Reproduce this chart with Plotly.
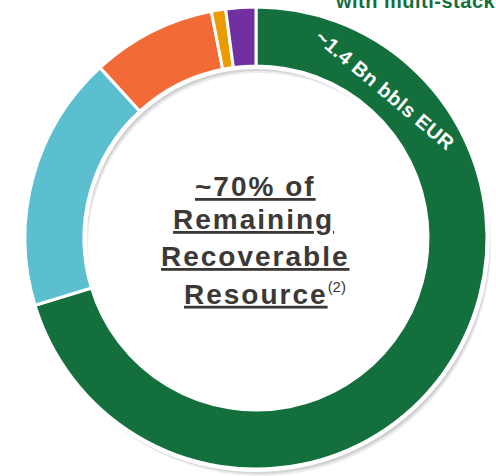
import plotly.graph_objects as go

# Share of remaining recoverable resource by area
segments = ["Core area", "Area B", "Area C", "Area D", "Area E"]
shares = [70.3, 17.9, 8.7, 1.0, 2.1]
colors = ["#13703D", "#5BBFCF", "#F26B36", "#E99B00", "#7030A0"]

ring_label = "~1.4 Bn bbls EUR"
center_lines = ["~70% of", "Remaining", "Recoverable", "Resource"]
center_note = "(2)"
header = "with multi-stacked"

W, H = 496, 476
CX, CY = 256, 238          # ring centre in px
R_OUT, R_IN = 231, 172     # outer / inner radius in px


def dom(cx, cy, r):
    return dict(x=[(cx - r) / W, (cx + r) / W],
                y=[(H - cy - r) / H, (H - cy + r) / H])


def px(x):
    return x / W


def py(y):
    return (H - y) / H


fig = go.Figure()

# soft drop shadow, a few offset grey rings
for dx, dy, a in [(2, 3, 0.10), (3, 5, 0.10), (4, 7, 0.07)]:
    fig.add_trace(go.Pie(
        values=shares, labels=segments, sort=False, direction="clockwise",
        rotation=0, hole=R_IN / R_OUT, domain=dom(CX + dx, CY + dy, R_OUT),
        marker=dict(colors=[f"rgba(0,0,0,{a})"] * len(shares), line=dict(width=0)),
        textinfo="none", hoverinfo="skip", showlegend=False))

# white halo around the ring
pad = 3
fig.add_trace(go.Pie(
    values=[1], labels=["halo"], sort=False, hole=(R_IN - pad) / (R_OUT + pad),
    domain=dom(CX, CY, R_OUT + pad),
    marker=dict(colors=["#FFFFFF"], line=dict(width=0)),
    textinfo="none", hoverinfo="skip", showlegend=False))

# the donut itself
fig.add_trace(go.Pie(
    values=shares, labels=segments, sort=False, direction="clockwise",
    rotation=0, hole=R_IN / R_OUT, domain=dom(CX, CY, R_OUT),
    marker=dict(colors=colors, line=dict(color="#FFFFFF", width=3)),
    textinfo="none", showlegend=False))

font = "Liberation Sans, Arial, sans-serif"
txt = "#3C3836"
ul = ("letter-spacing:2px;text-decoration:underline;"
      "text-decoration-thickness:3px;text-decoration-skip-ink:none")

anns = []
ys = [186, 219, 256, 294]
xs = [255, 253, 255]
for i, line in enumerate(center_lines[:3]):
    anns.append(dict(
        x=px(xs[i]), y=py(ys[i]), xref="paper", yref="paper",
        xanchor="center", yanchor="middle", showarrow=False,
        text=f'<span style="{ul}">{line}</span>',
        font=dict(family=font, size=28, color=txt, weight="bold")))
anns.append(dict(
    x=px(182), y=py(ys[3]), xref="paper", yref="paper",
    xanchor="left", yanchor="middle", showarrow=False,
    text=f'<span style="{ul}">{center_lines[3]}</span>'
         f'<sup><span style="font-weight:normal;font-size:15px">{center_note}</span></sup>',
    font=dict(family=font, size=28, color=txt, weight="bold")))

anns.append(dict(
    x=px(385), y=py(90), xref="paper", yref="paper",
    xanchor="center", yanchor="middle", showarrow=False, textangle=40,
    text=f'<span style="letter-spacing:0.5px">{ring_label}</span>',
    font=dict(family=font, size=20, color="#FFFFFF", weight="bold")))

anns.append(dict(
    x=px(333), y=py(1), xref="paper", yref="paper",
    xanchor="left", yanchor="middle", showarrow=False,
    text=f'<span style="letter-spacing:0.5px">{header}</span>',
    font=dict(family=font, size=20, color="#13703D", weight="bold")))

fig.update_layout(
    width=W, height=H, margin=dict(l=0, r=0, t=0, b=0),
    paper_bgcolor="#FFFFFF", plot_bgcolor="#FFFFFF",
    annotations=anns, showlegend=False)

fig.write_html("out.html")
